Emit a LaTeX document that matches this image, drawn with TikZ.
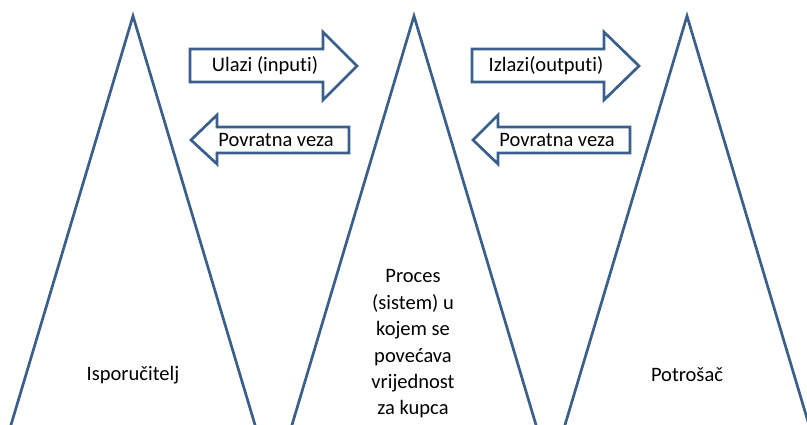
\documentclass[tikz,border=0pt]{standalone}
\usepackage{fontspec}
\setmainfont[RawFeature=-liga]{Carlito}
\usepackage{tikz}
\definecolor{edgeblue}{RGB}{58,95,140}
\tikzset{
	side/.style     = {draw=edgeblue, line width=2.7pt, line join=miter},
	blockarr/.style = {draw=edgeblue, line width=2.7pt, fill=white},
	lbl/.style      = {inner sep=0pt, font=\fontsize{20.5}{26.4}\selectfont}, % text
	box/.style      = {lbl, align=center} % wrapped text
}

\begin{document}
\begin{tikzpicture}[x=1pt, y=-1pt]
	\useasboundingbox (0,0) rectangle (807,425);
	\clip (0,0) rectangle (807,425);
	
	% triangles
	\draw[side] (5,445) -- (133,16) -- (261,445);
	\draw[side] (286,445) -- (414,16) -- (542,445);
	\draw[side] (559,445) -- (687,16) -- (815,445);
	
	% block arrows
	\draw[blockarr] (190,49) -- (323,49) -- (323,32) -- (357,66) -- (323,100) -- (323,82) -- (190,82) -- cycle;
	\draw[blockarr] (349,127) -- (217,127) -- (217,115) -- (191,140) -- (217,164) -- (217,153) -- (349,153) -- cycle;
	\draw[blockarr] (472,49) -- (604,49) -- (604,32) -- (639,66) -- (604,100) -- (604,82) -- (472,82) -- cycle;
	\draw[blockarr] (630,127) -- (498,127) -- (498,115) -- (473,140) -- (498,164) -- (498,153) -- (630,153) -- cycle;
	
	\draw
	node at (265,66)[lbl] (ulazi) {Ulazi (inputi)}
	node at (276,140)[lbl] (veza1) {Povratna veza}
	node at (546,66)[lbl] (izlazi) {Izlazi(outputi)}
	node at (557,140)[lbl] (veza2) {Povratna veza};
	
	\draw
	node at (133,375)[lbl] (isp) {Isporučitelj}
	node at (413,344)[box] (proc) {Proces\\(sistem) u\\kojem se\\povećava\\vrijednost\\za kupca}
	node at (687,375)[lbl] (potr) {Potrošač};
\end{tikzpicture}
\end{document}
